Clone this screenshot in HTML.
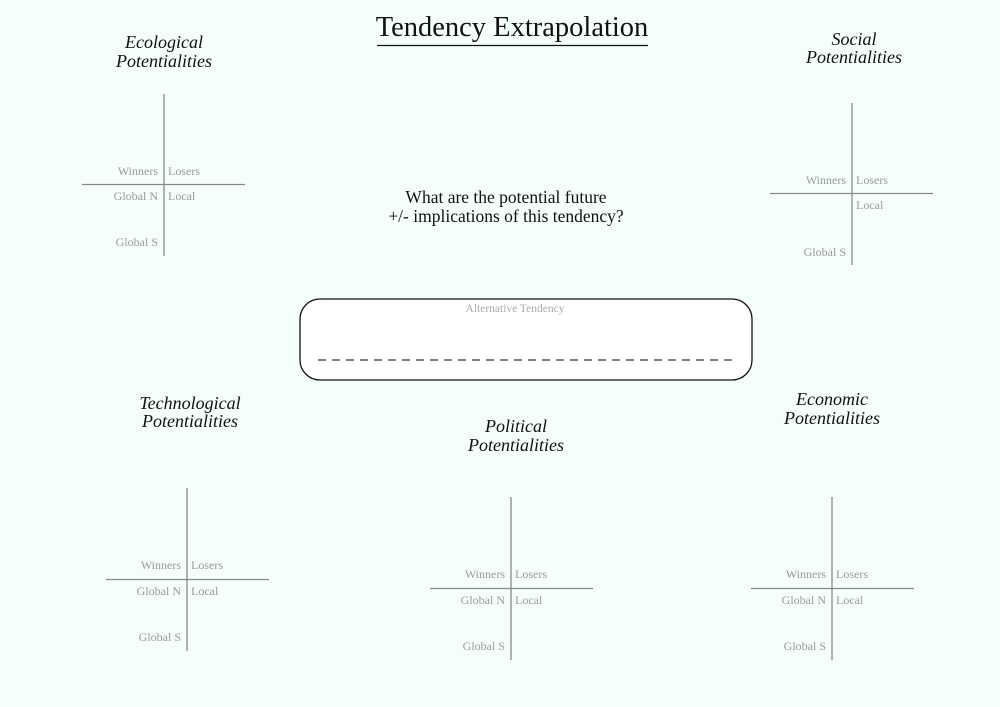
<!DOCTYPE html>
<html><head><meta charset="utf-8"><style>
html,body{margin:0;padding:0;background:#f5fffa;}
svg{display:block;font-family:"Liberation Serif",serif;}
.t{font-style:italic;font-size:18px;fill:#111;text-anchor:middle;}
.g{font-size:12px;fill:#999;}
.l{stroke:#888;stroke-width:1.3;}
</style></head><body>
<svg width="1000" height="707" viewBox="0 0 1000 707">
<rect x="0" y="0" width="1000" height="707" fill="#f5fffa"/>
<text x="512" y="36" font-size="28.5" text-anchor="middle" fill="#111">Tendency Extrapolation</text>
<line x1="377" y1="45.5" x2="648" y2="45.5" stroke="#111" stroke-width="1.3"/>
<text x="506" y="203" font-size="17.5" text-anchor="middle" fill="#111">What are the potential future</text>
<text x="506" y="222" font-size="17.5" text-anchor="middle" fill="#111">+/- implications of this tendency?</text>
<rect x="300" y="299" width="452" height="81" rx="20" fill="#fff" stroke="#111" stroke-width="1.3"/>
<text x="515" y="312" font-size="11.5" text-anchor="middle" fill="#aaa">Alternative Tendency</text>
<line x1="318" y1="360" x2="736" y2="360" stroke="#555" stroke-width="1.6" stroke-dasharray="8,6"/>

<text class="t" x="164" y="48">Ecological</text>
<text class="t" x="164" y="67">Potentialities</text>
<line class="l" x1="164" y1="94" x2="164" y2="256"/>
<line class="l" x1="82" y1="184.5" x2="245" y2="184.5"/>
<text class="g" x="158" y="175" text-anchor="end">Winners</text>
<text class="g" x="168" y="175">Losers</text>
<text class="g" x="158" y="200" text-anchor="end">Global N</text>
<text class="g" x="168" y="200">Local</text>
<text class="g" x="158" y="246" text-anchor="end">Global S</text>

<text class="t" x="854" y="45">Social</text>
<text class="t" x="854" y="63">Potentialities</text>
<line class="l" x1="852" y1="103" x2="852" y2="265"/>
<line class="l" x1="770" y1="193.5" x2="933" y2="193.5"/>
<text class="g" x="846" y="184" text-anchor="end">Winners</text>
<text class="g" x="856" y="184">Losers</text>
<text class="g" x="856" y="209">Local</text>
<text class="g" x="846" y="256" text-anchor="end">Global S</text>

<text class="t" x="190" y="409">Technological</text>
<text class="t" x="190" y="427">Potentialities</text>
<line class="l" x1="187" y1="488" x2="187" y2="651"/>
<line class="l" x1="106" y1="579.5" x2="269" y2="579.5"/>
<text class="g" x="181" y="569" text-anchor="end">Winners</text>
<text class="g" x="191" y="569">Losers</text>
<text class="g" x="181" y="595" text-anchor="end">Global N</text>
<text class="g" x="191" y="595">Local</text>
<text class="g" x="181" y="641" text-anchor="end">Global S</text>

<text class="t" x="516" y="432">Political</text>
<text class="t" x="516" y="451">Potentialities</text>
<line class="l" x1="511" y1="497" x2="511" y2="660"/>
<line class="l" x1="430" y1="588.5" x2="593" y2="588.5"/>
<text class="g" x="505" y="578" text-anchor="end">Winners</text>
<text class="g" x="515" y="578">Losers</text>
<text class="g" x="505" y="604" text-anchor="end">Global N</text>
<text class="g" x="515" y="604">Local</text>
<text class="g" x="505" y="650" text-anchor="end">Global S</text>

<text class="t" x="832" y="405">Economic</text>
<text class="t" x="832" y="424">Potentialities</text>
<line class="l" x1="832" y1="497" x2="832" y2="660"/>
<line class="l" x1="751" y1="588.5" x2="914" y2="588.5"/>
<text class="g" x="826" y="578" text-anchor="end">Winners</text>
<text class="g" x="836" y="578">Losers</text>
<text class="g" x="826" y="604" text-anchor="end">Global N</text>
<text class="g" x="836" y="604">Local</text>
<text class="g" x="826" y="650" text-anchor="end">Global S</text>
</svg>
</body></html>
